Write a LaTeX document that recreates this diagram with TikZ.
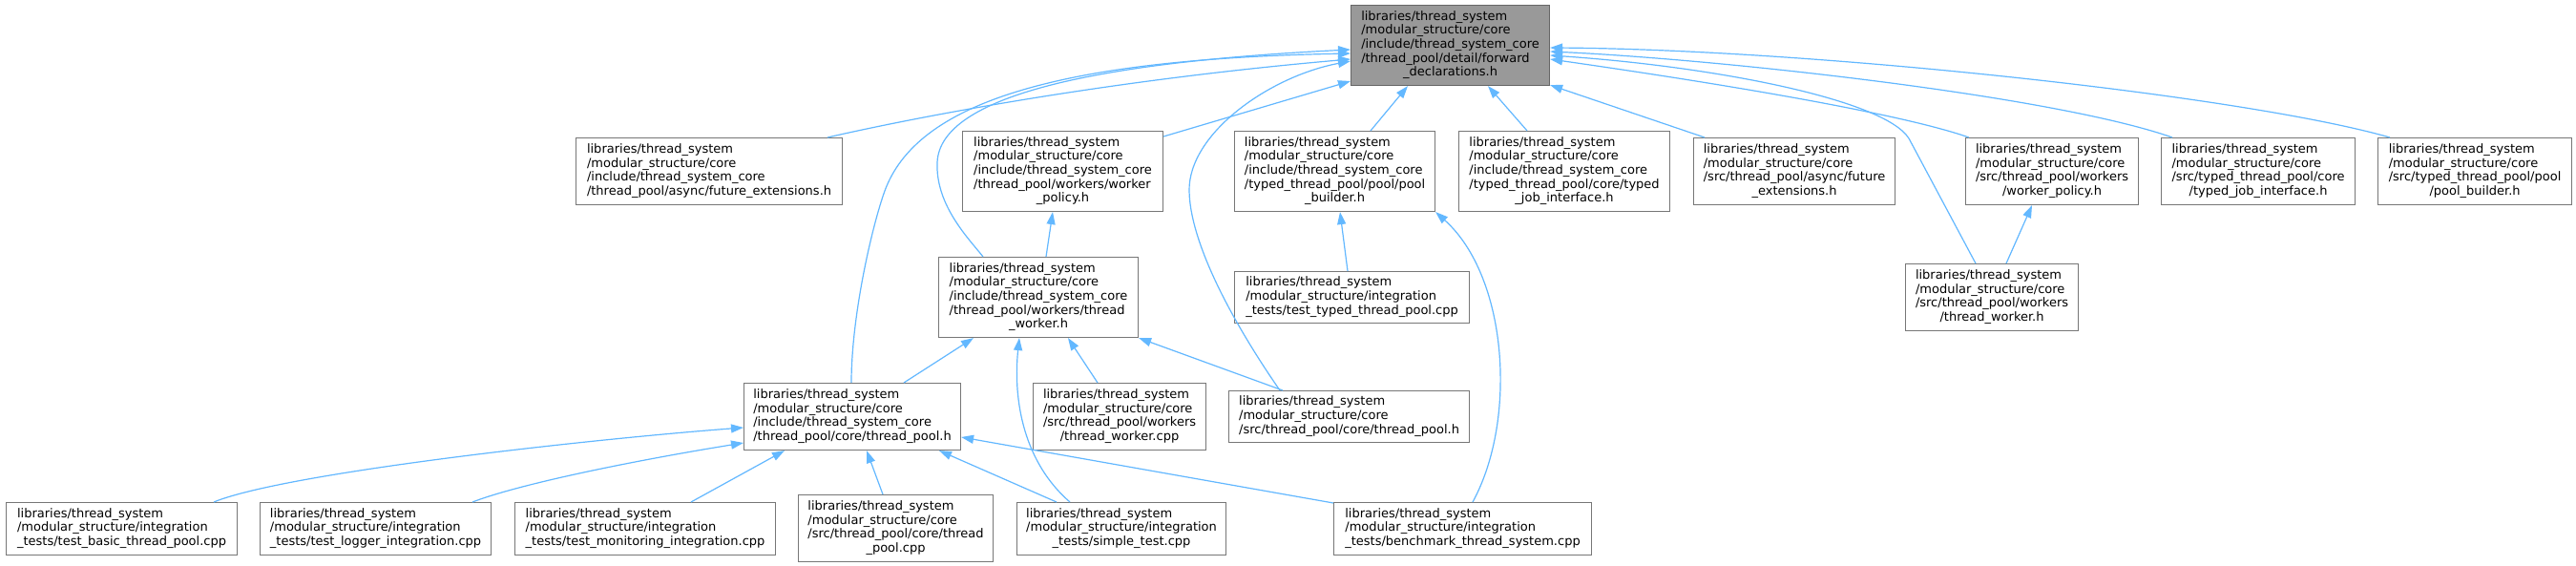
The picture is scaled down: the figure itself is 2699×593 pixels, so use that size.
\documentclass[tikz,border=0pt]{standalone}
\usepackage{fontspec}
\setmainfont{DejaVu Sans}
\usetikzlibrary{arrows.meta,calc}
\definecolor{edgeblue}{HTML}{63B8FF}
\definecolor{nodeborder}{HTML}{777777}
\definecolor{rootfill}{HTML}{999999}
\definecolor{rootborder}{HTML}{666666}
\newcommand\tlines[2]{\begin{tabular}{@{}l@{}}#1\\\multicolumn{1}{@{}c@{}}{#2}\end{tabular}}
\begin{document}
\begin{tikzpicture}[x=1pt,y=-1pt,
  box/.style={draw=nodeborder,line width=1.1pt,fill=white,rectangle,inner sep=0pt,anchor=north west,font=\fontsize{13}{14.67}\selectfont},
  root/.style={box,fill=rootfill,draw=rootborder},
  edge/.style={draw=edgeblue,line width=1.2pt,{Triangle[length=13pt,width=9pt]}-}]
\fill[white] (0,0) rectangle (2699,593);
\useasboundingbox (0,0) rectangle (2699,593);
% nodes
\node[root,minimum width=208pt,minimum height=84pt] (A) at (1415,5) {\tlines{libraries/thread\_system\\/modular\_structure/core\\/include/thread\_system\_core\\/thread\_pool/detail/forward}{\_declarations.h}};
\node[box,minimum width=279pt,minimum height=70pt] (B) at (603,144) {\tlines{libraries/thread\_system\\/modular\_structure/core\\/include/thread\_system\_core}{/thread\_pool/async/future\_extensions.h}};
\node[box,minimum width=210pt,minimum height=84pt] (C) at (1008,137) {\tlines{libraries/thread\_system\\/modular\_structure/core\\/include/thread\_system\_core\\/thread\_pool/workers/worker}{\_policy.h}};
\node[box,minimum width=210pt,minimum height=84pt] (D) at (1293,137) {\tlines{libraries/thread\_system\\/modular\_structure/core\\/include/thread\_system\_core\\/typed\_thread\_pool/pool/pool}{\_builder.h}};
\node[box,minimum width=221pt,minimum height=84pt] (E) at (1528,137) {\tlines{libraries/thread\_system\\/modular\_structure/core\\/include/thread\_system\_core\\/typed\_thread\_pool/core/typed}{\_job\_interface.h}};
\node[box,minimum width=211pt,minimum height=70pt] (F) at (1774,144) {\tlines{libraries/thread\_system\\/modular\_structure/core\\/src/thread\_pool/async/future}{\_extensions.h}};
\node[box,minimum width=181pt,minimum height=70pt] (G) at (2059,144) {\tlines{libraries/thread\_system\\/modular\_structure/core\\/src/thread\_pool/workers}{/worker\_policy.h}};
\node[box,minimum width=203pt,minimum height=70pt] (H) at (2264,144) {\tlines{libraries/thread\_system\\/modular\_structure/core\\/src/typed\_thread\_pool/core}{/typed\_job\_interface.h}};
\node[box,minimum width=203pt,minimum height=70pt] (I) at (2491,144) {\tlines{libraries/thread\_system\\/modular\_structure/core\\/src/typed\_thread\_pool/pool}{/pool\_builder.h}};
\node[box,minimum width=209pt,minimum height=84pt] (J) at (983,269) {\tlines{libraries/thread\_system\\/modular\_structure/core\\/include/thread\_system\_core\\/thread\_pool/workers/thread}{\_worker.h}};
\node[box,minimum width=246pt,minimum height=54pt] (K) at (1293,284) {\tlines{libraries/thread\_system\\/modular\_structure/integration}{\_tests/test\_typed\_thread\_pool.cpp}};
\node[box,minimum width=181pt,minimum height=70pt] (L) at (1996,276) {\tlines{libraries/thread\_system\\/modular\_structure/core\\/src/thread\_pool/workers}{/thread\_worker.h}};
\node[box,minimum width=227pt,minimum height=70pt] (M) at (779,401) {\tlines{libraries/thread\_system\\/modular\_structure/core\\/include/thread\_system\_core}{/thread\_pool/core/thread\_pool.h}};
\node[box,minimum width=181pt,minimum height=70pt] (N) at (1082,401) {\tlines{libraries/thread\_system\\/modular\_structure/core\\/src/thread\_pool/workers}{/thread\_worker.cpp}};
\node[box,minimum width=252pt,minimum height=54pt] (O) at (1287,409) {\tlines{libraries/thread\_system\\/modular\_structure/core}{/src/thread\_pool/core/thread\_pool.h}};
\node[box,minimum width=242pt,minimum height=55pt] (P) at (6,526) {\tlines{libraries/thread\_system\\/modular\_structure/integration}{\_tests/test\_basic\_thread\_pool.cpp}};
\node[box,minimum width=242pt,minimum height=55pt] (Q) at (272,526) {\tlines{libraries/thread\_system\\/modular\_structure/integration}{\_tests/test\_logger\_integration.cpp}};
\node[box,minimum width=273pt,minimum height=55pt] (R) at (539,526) {\tlines{libraries/thread\_system\\/modular\_structure/integration}{\_tests/test\_monitoring\_integration.cpp}};
\node[box,minimum width=204pt,minimum height=70pt] (S) at (836,518) {\tlines{libraries/thread\_system\\/modular\_structure/core\\/src/thread\_pool/core/thread}{\_pool.cpp}};
\node[box,minimum width=219pt,minimum height=55pt] (T) at (1065,526) {\tlines{libraries/thread\_system\\/modular\_structure/integration}{\_tests/simple\_test.cpp}};
\node[box,minimum width=270pt,minimum height=55pt] (U) at (1397,526) {\tlines{libraries/thread\_system\\/modular\_structure/integration}{\_tests/benchmark\_thread\_system.cpp}};
% edges into A
\draw[edge] ($(A.north west)+(0,47)$) .. controls (1150,65) and (985,100) .. (982,170) .. controls (980,215) and (1015,250) .. ($(J.north west)+(47,0)$);
\draw[edge] ($(A.north west)+(0,51)$) .. controls (1100,62) and (960,110) .. (927,200) .. controls (914,236) and (892,330) .. ($(M.north west)+(113,0)$);
\draw[edge] ($(A.north west)+(0,57)$) .. controls (1150,85) and (950,125) .. ($(B.north west)+(264,0)$);
\draw[edge] ($(A.north west)+(0,59)$) .. controls (1330,80) and (1245,140) .. (1246,200) .. controls (1247,260) and (1300,350) .. ($(O.north west)+(54,0)$);
\draw[edge] ($(A.north west)+(0,80)$) -- ($(C.north east)+(0,6)$);
\draw[edge] ($(A.south west)+(60,0)$) -- ($(D.north west)+(143,0)$);
\draw[edge] ($(A.south west)+(144,0)$) -- ($(E.north west)+(72,0)$);
\draw[edge] ($(A.south east)+(0,-1)$) -- ($(F.north west)+(12,0)$);
\draw[edge] ($(A.north east)+(0,57)$) .. controls (1750,80) and (1980,115) .. ($(G.north west)+(4,0)$);
\draw[edge] ($(A.north east)+(0,49)$) .. controls (1800,62) and (2150,100) .. ($(H.north west)+(12,0)$);
\draw[edge] ($(A.north east)+(0,45)$) .. controls (1900,52) and (2350,100) .. ($(I.north west)+(13,0)$);
\draw[edge] ($(A.north east)+(0,53)$) .. controls (1800,70) and (1975,105) .. (2000,145) -- ($(L.north west)+(74,0)$);
% other edges
\draw[edge] ($(C.south west)+(95,0)$) -- ($(J.north west)+(113,0)$);
\draw[edge] ($(D.south west)+(111,0)$) -- ($(K.north west)+(119,0)$);
\draw[edge] (D.south east) .. controls (1580,290) and (1590,440) .. ($(U.north west)+(146,0)$);
\draw[edge] ($(G.south west)+(70,0)$) -- ($(L.north west)+(106,0)$);
\draw[edge] ($(J.south west)+(37,0)$) -- ($(M.north west)+(168,0)$);
\draw[edge] ($(J.south west)+(136,0)$) -- ($(N.north west)+(68,0)$);
\draw[edge] ($(J.south west)+(85,0)$) .. controls (1062,410) and (1068,480) .. ($(T.north west)+(56,0)$);
\draw[edge] (J.south east) -- ($(O.north west)+(57,0)$);
\draw[edge] ($(M.north west)+(0,47)$) .. controls (620,460) and (300,495) .. ($(P.north west)+(218,0)$);
\draw[edge] ($(M.north west)+(0,63)$) .. controls (680,480) and (550,505) .. ($(Q.north west)+(223,0)$);
\draw[edge] ($(M.south west)+(43,0)$) -- ($(R.north west)+(185,0)$);
\draw[edge] ($(M.south west)+(129,0)$) -- ($(S.north west)+(89,0)$);
\draw[edge] ($(M.south west)+(205,0)$) -- ($(T.north west)+(42,0)$);
\draw[edge] ($(M.north east)+(0,57)$) -- ($(U.north west)+(0,1)$);
\end{tikzpicture}
\end{document}
